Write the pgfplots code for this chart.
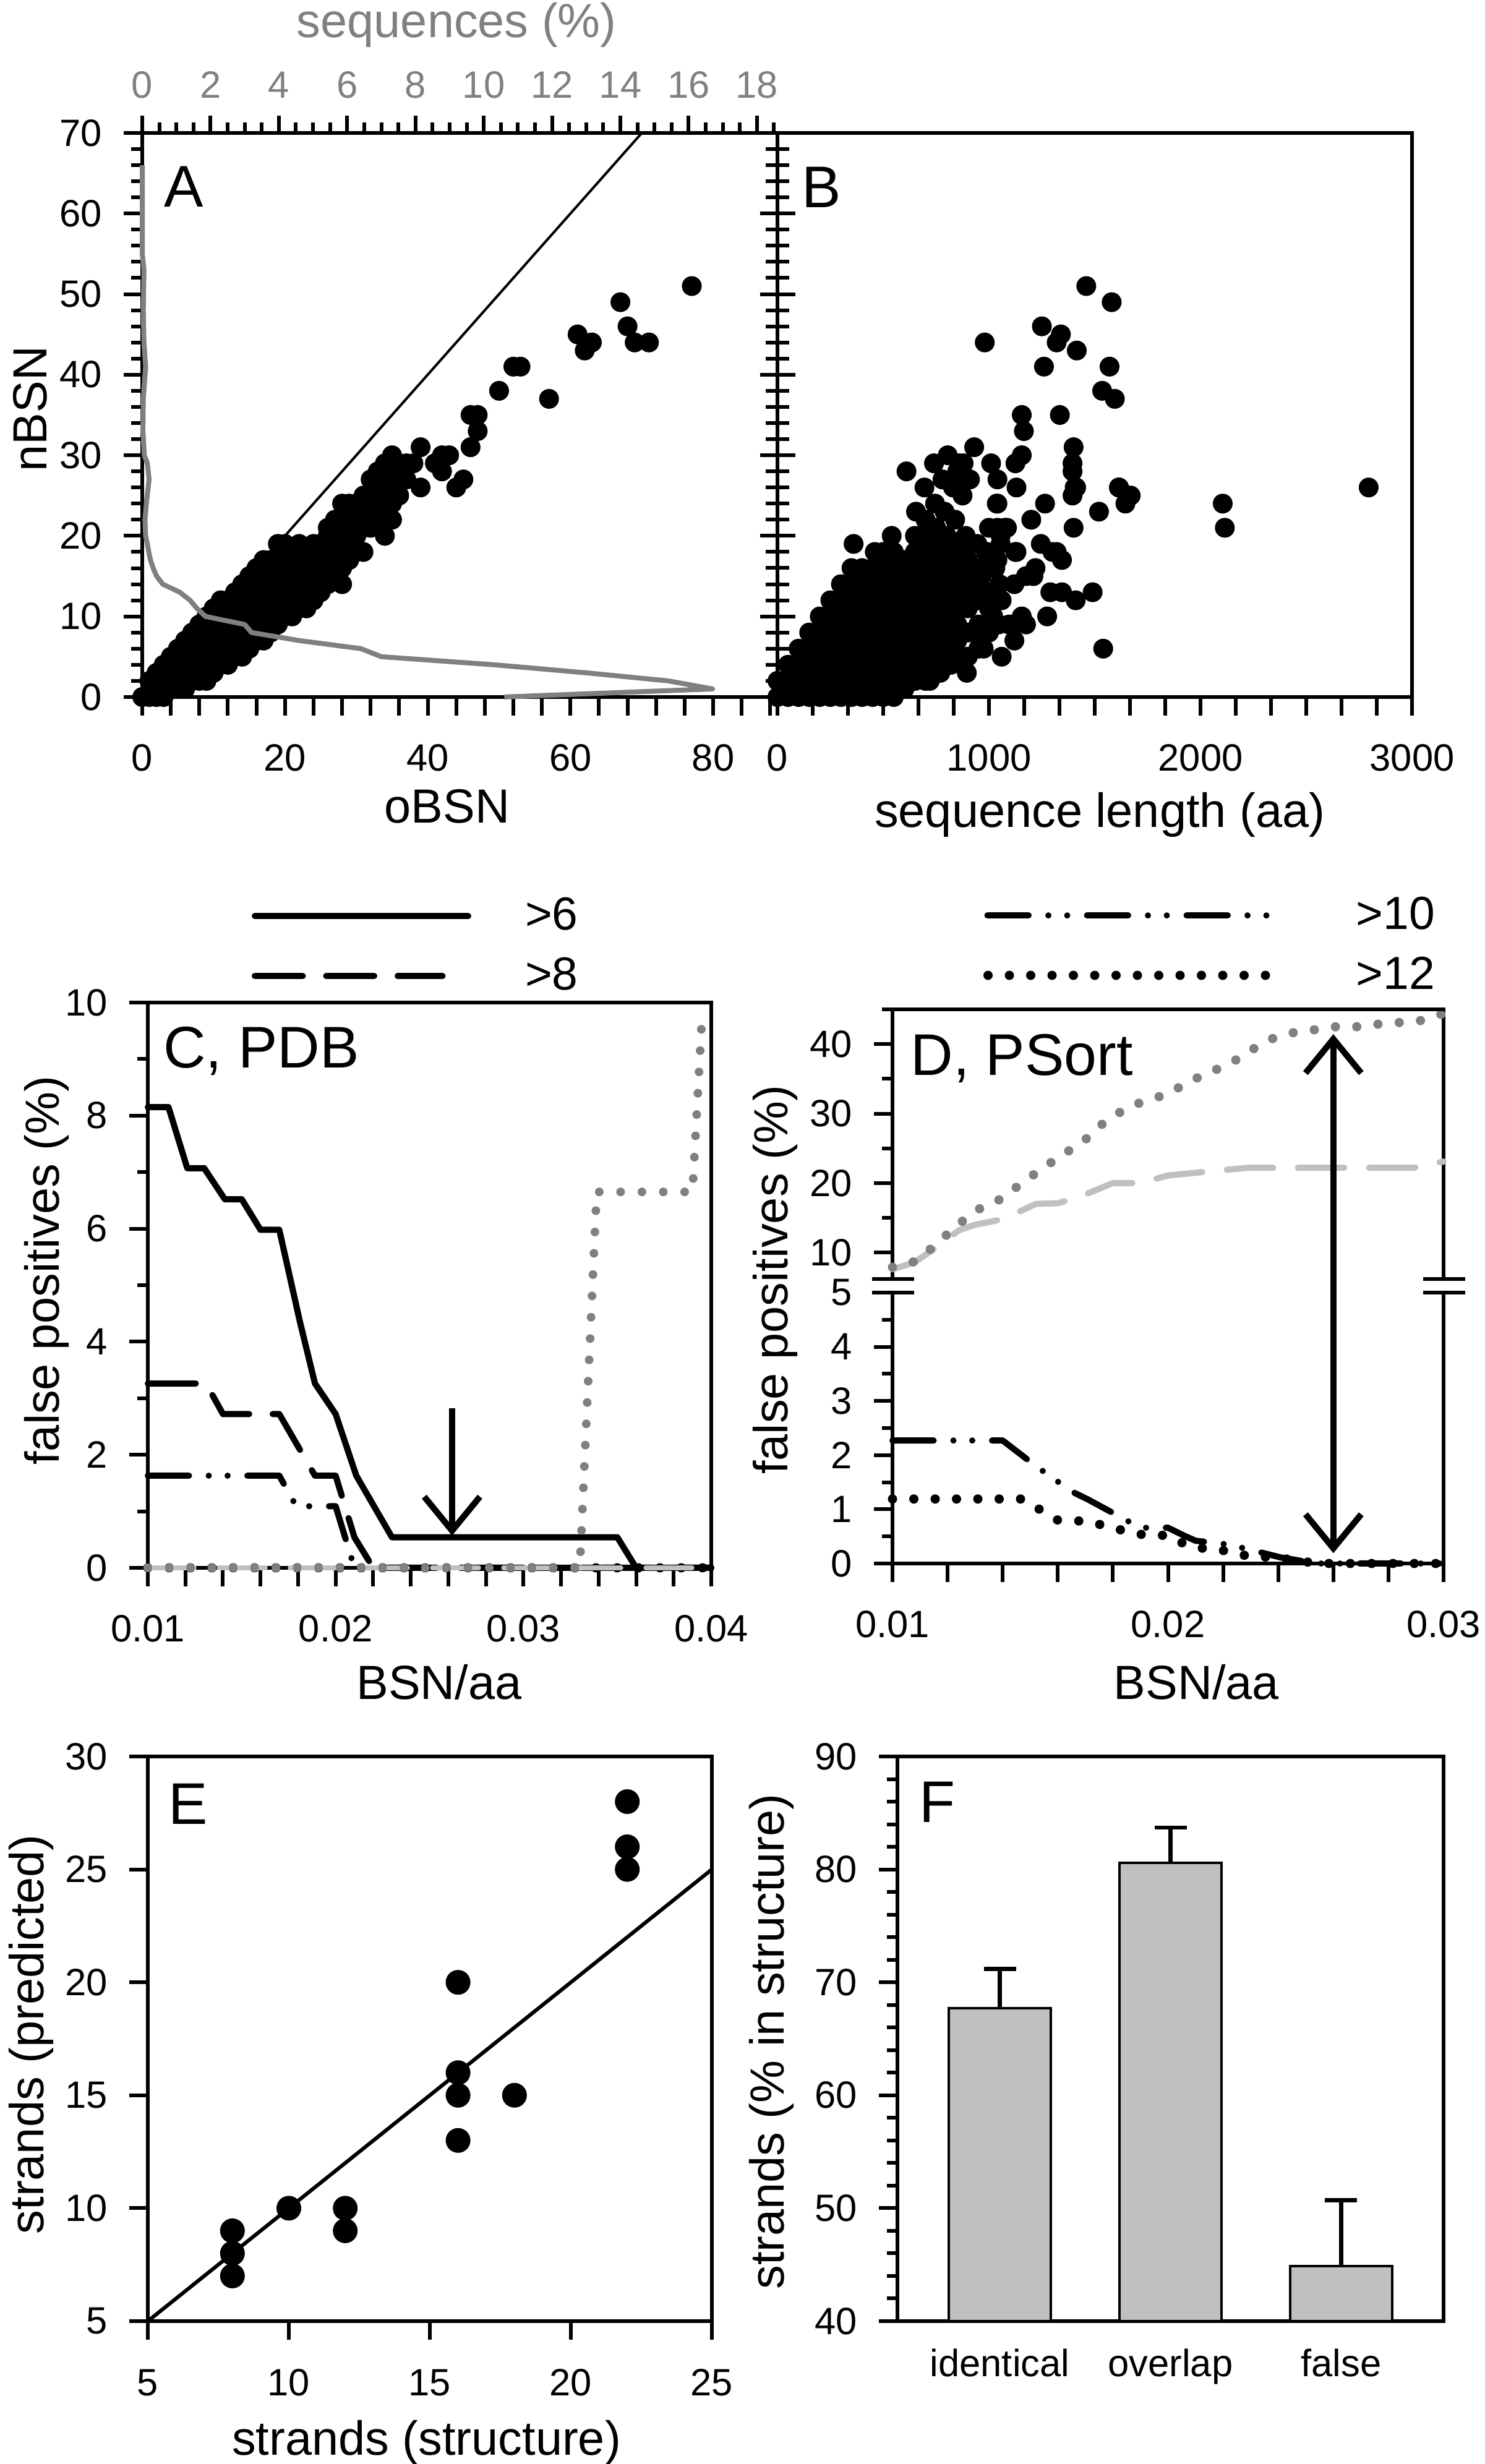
\documentclass[border=0pt]{standalone}
\usepackage{fontspec}
\setmainfont{Liberation Sans}
\usepackage{pgfplots}
\pgfplotsset{compat=1.18}
\usetikzlibrary{arrows.meta}
\definecolor{dgray}{RGB}{128,128,128}
\definecolor{lgray}{RGB}{192,192,192}
\definecolor{bargray}{RGB}{192,192,192}
\newcommand{\tickfont}{\fontsize{12.3}{14}\selectfont}
\newcommand{\labfont}{\fontsize{15.5}{18}\selectfont}
\newcommand{\panfont}{\fontsize{19}{22}\selectfont}
\newcommand{\legfont}{\fontsize{15}{18}\selectfont}
\tikzset{
  l6/.style={black, line width=2pt, line cap=round, line join=round},
  l8/.style={black, line width=2pt, line cap=round, line join=round, dash pattern=on 15.5pt off 7.6pt},
  l10/.style={black, line width=2pt, line cap=round, line join=round, dash pattern=on 13.3pt off 6.4pt on 0pt off 6.1pt on 0pt off 6.4pt},
  l12/.style={black, line width=3pt, line cap=round, dash pattern=on 0pt off 6.9pt},
  gdot/.style={dgray, line width=2.8pt, line cap=round, dash pattern=on 0pt off 6.9pt},
  ldash/.style={lgray, line width=2pt, line cap=round, line join=round, dash pattern=on 15pt off 8pt},
  barb/.tip={Straight Barb[length=11pt,width=18pt]},
}
\pgfplotsset{
  base/.style={
    scale only axis, clip=false,
    axis line style={line width=1.2pt},
    every tick/.style={black, line width=1.2pt},
    tick align=outside, tick pos=left,
    major tick length=6pt, minor tick length=3.5pt,
    tick label style={font=\tickfont, inner sep=0pt},
    xticklabel style={anchor=base}, xticklabel shift=18pt,
    yticklabel style={anchor=east}, yticklabel shift=6.8pt,
    /pgf/number format/assume math mode=true,
    /pgf/number format/1000 sep={},
    scaled ticks=false,
  },
  xlab/.style 2 args={every axis x label/.style={at={(rel axis cs:#1,#2)}, anchor=base, font=\labfont, inner sep=0pt}},
  ylab/.style 2 args={every axis y label/.style={at={(rel axis cs:#1,#2)}, rotate=90, anchor=base, font=\labfont, inner sep=0pt}},
  legS/.style={legend image code/.code={\draw[##1] (1pt,0pt) -- (70pt,0pt); \path[draw=none,fill=none] (0pt,-5.35pt) rectangle (88.4pt,5.35pt);}},
  legD/.style={legend image code/.code={\draw[##1] (1pt,0pt) -- (61.7pt,0pt); \path[draw=none,fill=none] (0pt,-5.35pt) rectangle (88.4pt,5.35pt);}},
  legDD/.style={legend image code/.code={\draw[##1] (1pt,0pt) -- (91.2pt,0pt); \path[draw=none,fill=none] (0pt,-5.35pt) rectangle (120.2pt,5.35pt);}},
  legDot/.style={legend image code/.code={\draw[##1] (1.2pt,0pt) -- (91pt,0pt); \path[draw=none,fill=none] (0pt,-5.35pt) rectangle (120.2pt,5.35pt);}},
}
\begin{document}
\begin{tikzpicture}
\useasboundingbox (0,0) rectangle (480pt,796.8pt);

% ---------------- A ----------------
\begin{axis}[base, at={(46pt,571.4pt)}, anchor=south west, width=205.4pt, height=182.4pt,
  xmin=0, xmax=89, ymin=0, ymax=70,
  xtick={0,4,8,12,16,20,24,28,32,36,40,44,48,52,56,60,64,68,72,76,80,84,88},
  xticklabels={0,,,,,20,,,,,40,,,,,60,,,,,80,,},
  ytick={0,10,20,30,40,50,60,70}, minor ytick={2,4,...,68},
  xlab={0.48}{-0.2237}, ylab={-0.1509}{0.511},
  xlabel={oBSN}, ylabel={nBSN}]
\addplot[black, line width=0.8pt] coordinates {(0,0) (70,70)};
\addplot[only marks, mark=*, mark size=3pt, black] coordinates {
(0,0)(1,0)(1,2)(2,0)(2,2)(2,3)(3,0)(3,2)(3,4)(4,1)(4,3)(4,5)
(5,1)(5,3)(5,5)(5,6)(6,1)(6,3)(6,5)(6,7)(7,2)(7,4)(7,6)(7,8)
(8,2)(8,4)(8,6)(8,8)(8,9)(9,2)(9,3)(9,5)(9,7)(9,9)(9,10)
(10,3)(10,5)(10,7)(10,9)(10,11)(11,4)(11,6)(11,8)(11,10)(11,12)
(12,4)(12,6)(12,8)(12,10)(12,12)(13,5)(13,7)(13,9)(13,11)(13,13)
(14,5)(14,7)(14,9)(14,11)(14,13)(14,14)(15,6)(15,8)(15,10)(15,12)(15,14)(15,15)
(16,7)(16,9)(16,11)(16,13)(16,15)(16,16)(17,7)(17,9)(17,11)(17,13)(17,15)(17,17)
(18,8)(18,10)(18,12)(18,14)(18,16)(18,17)(19,9)(19,11)(19,13)(19,15)(19,17)(19,19)
(20,10)(20,12)(20,14)(20,16)(20,18)(20,19)(21,10)(21,12)(21,14)(21,16)(21,18)
(22,11)(22,13)(22,15)(22,17)(22,19)(23,11)(23,13)(23,15)(23,17)(23,18)
(24,12)(24,14)(24,16)(24,18)(24,19)(25,13)(25,15)(25,17)(25,19)
(26,14)(26,16)(26,18)(26,20)(26,21)(27,15)(27,17)(27,19)(27,21)(27,22)
(28,14)(28,16)(28,18)(28,20)(28,22)(28,24)(29,17)(29,19)(29,21)(29,23)(29,24)
(30,18)(30,20)(30,22)(30,24)(31,18)(31,21)(31,23)(31,25)
(32,21)(32,23)(32,25)(32,27)(33,22)(33,24)(33,26)(33,28)
(34,20)(34,23)(34,25)(34,27)(34,29)(35,22)(35,24)(35,26)(35,28)(35,30)
(36,25)(36,27)(36,29)(37,27)(37,29)
(38,29)(39,31)(39,26)(41,29)(42,28)(42,30)(43,30)(44,26)(45,27)(46,31)(47,33)
(46,35)(47,35)(50,38)(52,41)(53,41)(57,37)(61,45)(62,43)(63,44)
(67,49)(68,46)(69,44)(71,44)(77,51)};
\node[anchor=north west, inner sep=0pt, font=\panfont] at ([shift={(7pt,-10.6pt)}]rel axis cs:0,1) {A};
\end{axis}
% top axis of A (sequences %)
\begin{axis}[base, at={(46pt,571.4pt)}, anchor=south west, width=205.4pt, height=182.4pt,
  xmin=0, xmax=18.6, ymin=0, ymax=70,
  axis x line*=top, axis y line=none, axis line style={-},
  xtick pos=right, xticklabel pos=right,
  major tick length=5.5pt, minor tick length=3.3pt,
  xtick={0,2,...,18}, minor xtick={0.5,1,...,18.5},
  xticklabel style={dgray, anchor=base}, xticklabel shift=5.7pt,
  xlab={0.495}{1.1694}, xlabel={sequences (\%)}, xlabel style={dgray}]
\addplot[dgray, line width=1.6pt, line join=round] coordinates {
(10.6,0) (16.7,1) (15.4,2) (13.0,3) (10.3,4) (7.0,5) (6.4,6) (4.6,7) (3.2,8) (3.0,9)
(1.85,10) (1.6,11) (1.4,12) (1.1,13) (0.6,14) (0.42,15) (0.32,16) (0.24,17) (0.19,18)
(0.15,19) (0.1,20) (0.08,22) (0.12,24) (0.2,27) (0.15,29) (0.06,30) (0.02,33) (0.03,37)
(0.1,41) (0.05,44) (0.03,48) (0.05,53) (0.0,55) (0.0,66)};
\end{axis}

% ---------------- B ----------------
\begin{axis}[base, at={(251.4pt,571.4pt)}, anchor=south west, width=205.2pt, height=182.4pt,
  xmin=0, xmax=3000, ymin=0, ymax=70,
  xtick={0,166.67,333.33,500,666.67,833.33,1000,1166.67,1333.33,1500,1666.67,1833.33,2000,2166.67,2333.33,2500,2666.67,2833.33,3000},
  xticklabels={0,,,,,,1000,,,,,,2000,,,,,,3000},
  ytick=\empty,
  xlab={0.508}{-0.2314},
  xlabel={sequence length (aa)}]
\addplot[only marks, mark=*, mark size=3pt, black] coordinates {
(0,0)(0,2)(50,0)(50,2)(50,4)(100,0)(100,2)(100,4)(100,6)
(150,0)(150,2)(150,4)(150,6)(150,8)
(200,0)(200,2)(200,4)(200,6)(200,8)(200,10)
(250,0)(250,2)(250,4)(250,6)(250,8)(250,10)(250,12)
(300,0)(300,2)(300,4)(300,6)(300,8)(300,10)(300,12)(300,14)
(350,0)(350,2)(350,4)(350,6)(350,8)(350,10)(350,12)(350,14)(350,16)(360,19)
(400,0)(400,2)(400,4)(400,6)(400,8)(400,10)(400,12)(400,14)(400,16)
(450,0)(450,2)(450,4)(450,6)(450,8)(450,10)(450,12)(450,14)(450,16)(460,18)
(500,0)(500,2)(500,4)(500,6)(500,8)(500,10)(500,12)(500,14)(500,16)(500,18)
(550,0)(550,2)(550,4)(550,6)(550,8)(550,10)(550,12)(550,14)(550,16)(550,18)(540,20)
(600,1)(600,3)(600,5)(600,7)(600,9)(600,11)(600,13)(600,15)(600,17)
(650,2)(650,4)(650,6)(650,8)(650,10)(650,12)(650,14)(650,16)(650,18)(650,20)(655,23)
(700,2)(700,4)(700,6)(700,8)(700,10)(700,12)(700,14)(700,16)(700,18)(700,20)(700,22)(695,26)
(750,3)(750,5)(750,7)(750,9)(750,11)(750,13)(750,15)(750,17)(750,19)(750,21)(745,24)(740,29)
(800,4)(800,6)(800,8)(800,10)(800,12)(800,14)(800,16)(800,18)(800,20)(790,23)(780,27)(805,30)
(850,5)(850,7)(850,9)(850,11)(850,13)(850,15)(850,17)(850,19)(840,22)(830,26)(850,28)(880,29)
(900,5)(900,8)(900,11)(900,13)(900,15)(900,17)(890,20)(875,25)(910,27)
(950,6)(950,9)(950,12)(950,14)(950,16)(945,19)
(1000,8)(1000,11)(1000,13)(1000,16)(990,18)
(1045,9)(1050,12)(1050,14)(1040,17)(1055,20)
(1460,51)(1580,49)(980,44)(1250,46)(1340,45)(1320,44)(1415,43)(1260,41)(1570,41)
(1535,38)(1595,37)(1155,35)(1335,35)(1165,33)(1400,31)(1155,30)(1125,29)(1395,29)
(1395,28)(930,31)(1010,29)(1040,27)(610,28)(860,29)(1615,26)(1670,25)
(1645,24)(1405,26)(1395,25)(1130,26)(2105,24)(2115,21)(2795,26)(1040,24)(1265,24)
(1520,23)(1400,21)(1200,22)(1040,21)(1085,21)(1130,18)(1245,19)(1320,18)(1345,17)
(1220,16)(1175,15)(1120,14)(1290,13)(1345,13)(1410,12)(1490,13)(1060,12)(1155,10)
(1275,10)(1175,9)(1095,9)(1120,7)(1540,6)(1060,5)(975,6)(895,3)(770,3)(875,8)
(1000,21)(1075,21)(1300,18)(1125,18)(1210,15)(1020,10)(955,8)(880,19)(985,18)
(965,15)(1030,16)(1055,19)(820,4)(720,2)(1037,24)(1412,26)(1653,25)(1614,26)(1110,9)};
\node[anchor=north west, inner sep=0pt, font=\panfont] at ([shift={(7.7pt,-10.9pt)}]rel axis cs:0,1) {B};
\end{axis}
% B: centred y ticks on the shared axis line
\begin{axis}[base, at={(251.4pt,571.4pt)}, anchor=south west, width=205.2pt, height=182.4pt,
  xmin=0, xmax=3000, ymin=0, ymax=70,
  hide x axis, axis y line*=left, axis line style={-},
  tick align=center, major tick length=11.4pt, minor tick length=7.6pt,
  ytick={0,10,20,30,40,50,60,70}, minor ytick={2,4,...,68}, yticklabels={}]
\end{axis}

% ---------------- C ----------------
\begin{axis}[base, at={(47.8pt,289.8pt)}, anchor=south west, width=182.2pt, height=182.8pt,
  xmin=0.01, xmax=0.04, ymin=0, ymax=10,
  xtick={0.010,0.012,0.014,0.016,0.018,0.020,0.022,0.024,0.026,0.028,0.030,0.032,0.034,0.036,0.038,0.040},
  xticklabels={0.01,,,,,0.02,,,,,0.03,,,,,0.04},
  ytick={0,2,4,6,8,10}, minor ytick={1,3,5,7,9},
  xlab={0.517}{-0.233}, ylab={-0.1575}{0.526},
  xlabel={BSN/aa}, ylabel={false positives (\%)},
  legend style={draw=none, fill=none, inner sep=0pt, outer sep=0pt, row sep=7.4pt,
    font=\legfont, nodes={inner sep=0pt}, at={(rel axis cs:0.1844,1.0142)}, anchor=south west},
  legend cell align=left]
\addplot[l6, legS]
 coordinates {(0.010,8.15) (0.0111,8.15) (0.0121,7.07) (0.0130,7.07) (0.0141,6.52) (0.0150,6.52)
 (0.0160,5.98) (0.0170,5.98) (0.0181,4.35) (0.0189,3.26) (0.0200,2.72) (0.0211,1.63)
 (0.0230,0.54) (0.0350,0.54) (0.0360,0) (0.040,0)};
\addlegendentry{>6}
\addplot[l8, legD]
 coordinates {(0.010,3.26) (0.0131,3.26) (0.0140,2.72) (0.0170,2.72) (0.0189,1.63) (0.0200,1.63)
 (0.0210,0.54) (0.0220,0) (0.040,0)};
\addlegendentry{>8}
\addplot[l10, forget plot] coordinates {(0.010,1.63) (0.0170,1.63) (0.0179,1.09) (0.0200,1.09) (0.0210,0) (0.040,0)};
\addplot[l12, forget plot] coordinates {(0.010,0) (0.040,0)};
\addplot[ldash, line width=1.5pt, forget plot] coordinates {(0.010,0) (0.040,0)};
\addplot[gdot, forget plot] coordinates {(0.010,0) (0.0330,0) (0.0339,6.65) (0.0390,6.65) (0.0395,9.7)};
\draw[line width=2pt, -{barb}] (axis cs:0.0262,2.82) -- (axis cs:0.0262,0.57);
\node[anchor=north west, inner sep=0pt, font=\panfont] at ([shift={(4.8pt,-7.6pt)}]rel axis cs:0,1) {C, PDB};
\end{axis}

% ---------------- D (upper part) ----------------
\begin{axis}[base, at={(288.6pt,383.2pt)}, anchor=south west, width=178.2pt, height=87.2pt,
  xmin=0.01, xmax=0.03, ymin=6.2, ymax=45,
  separate axis lines, x axis line style={draw=none}, xtick=\empty,
  ytick={10,20,30,40}, minor ytick={15,25,35,45},
  legend style={draw=none, fill=none, inner sep=0pt, outer sep=0pt, row sep=7.4pt,
    font=\legfont, nodes={inner sep=0pt}, at={(rel axis cs:0.165,1.0573)}, anchor=south west},
  legend cell align=left]
\addplot[ldash, forget plot] coordinates {(0.0100,7.6) (0.0108,8.6) (0.0118,11.3) (0.0124,13.2) (0.0130,14.0)
 (0.0140,14.8) (0.0145,15.7) (0.0152,17.0) (0.0160,17.1) (0.0169,18.2) (0.0180,20.0) (0.0190,20.0)
 (0.0200,21.1) (0.0221,21.9) (0.0229,22.2) (0.0289,22.2) (0.0300,23.1)};
\addplot[gdot, line width=3pt, forget plot] coordinates {(0.0100,7.9) (0.0108,8.7) (0.0116,11.2) (0.0123,13.8)
 (0.0131,16.2) (0.0138,17.4) (0.0146,19.7) (0.0154,22.0) (0.0161,23.9) (0.0169,25.9) (0.0177,28.8)
 (0.0185,30.8) (0.0192,31.9) (0.0200,32.8) (0.0207,34.5) (0.0215,35.9) (0.0223,37.3) (0.0230,39.1)
 (0.0238,40.8) (0.0246,41.7) (0.0254,42.1) (0.0261,42.5) (0.0269,42.5) (0.0277,42.9) (0.0284,43.1)
 (0.0292,43.4) (0.0300,44.4)};
\addlegendimage{l10, legDD}
\addlegendentry{>10}
\addlegendimage{l12, legDot}
\addlegendentry{>12}
\draw[line width=1.2pt, line cap=rect] (rel axis cs:0,1) -- (rel axis cs:1,1);
\draw[line width=1.2pt] ([xshift=-6.6pt]rel axis cs:0,0) -- ([xshift=7pt]rel axis cs:0,0);
\draw[line width=1.2pt] ([xshift=-6.6pt]rel axis cs:1,0) -- ([xshift=7pt]rel axis cs:1,0);
\node[anchor=north west, inner sep=0pt, font=\panfont] at ([shift={(5.7pt,-7.8pt)}]rel axis cs:0,1) {D, PSort};
\end{axis}
% ---------------- D (lower part) ----------------
\begin{axis}[base, at={(288.6pt,291.2pt)}, anchor=south west, width=178.2pt, height=87.6pt,
  xmin=0.01, xmax=0.03, ymin=0, ymax=5,
  separate axis lines, x axis line style={draw=none},
  xtick={0.010,0.012,0.014,0.016,0.018,0.020,0.022,0.024,0.026,0.028,0.030},
  xticklabels={0.01,,,,,0.02,,,,,0.03},
  ytick={0,1,2,3,4,5}, minor ytick={0.5,1.5,2.5,3.5,4.5},
  xlab={0.5516}{-0.502}, xlabel={BSN/aa}]
\addplot[l10] coordinates {(0.0100,2.27) (0.0140,2.27) (0.0152,1.80) (0.0165,1.33) (0.0171,1.18)
 (0.0187,0.74) (0.0192,0.66) (0.0200,0.66) (0.0206,0.51) (0.0210,0.42) (0.0222,0.35) (0.0234,0.20)
 (0.0241,0.11) (0.0254,0) (0.030,0)};
\addplot[l12] coordinates {(0.0100,1.19) (0.0147,1.19) (0.0160,0.80) (0.0170,0.78) (0.0177,0.70)
 (0.0185,0.59) (0.0192,0.52) (0.0200,0.52) (0.0207,0.33) (0.0215,0.26) (0.0222,0.23) (0.0230,0.12)
 (0.0238,0.12) (0.0250,0.03) (0.0255,0) (0.030,0)};
\draw[line width=1.2pt, line cap=rect] (rel axis cs:0,0) -- (rel axis cs:1,0);
\draw[line width=1.2pt] ([xshift=-6.6pt]rel axis cs:0,1) -- ([xshift=7pt]rel axis cs:0,1);
\draw[line width=1.2pt] ([xshift=-6.6pt]rel axis cs:1,1) -- ([xshift=7pt]rel axis cs:1,1);
\draw[line width=2pt, {barb}-{barb}] (axis cs:0.026,0.19) -- (axis cs:0.026,9.77);
\node[rotate=90, anchor=base, inner sep=0pt, font=\labfont] at ([xshift=-34pt]rel axis cs:0,1.047) {false positives (\%)};
\end{axis}

% ---------------- E ----------------
\begin{axis}[base, at={(47.8pt,46.2pt)}, anchor=south west, width=182.4pt, height=182.6pt,
  xmin=5, xmax=25, ymin=5, ymax=30,
  xtick={5,10,15,20,25}, ytick={5,10,15,20,25,30},
  xlab={0.494}{-0.237}, ylab={-0.1853}{0.508},
  xlabel={strands (structure)}, ylabel={strands (predicted)}]
\addplot[black, line width=1.2pt] coordinates {(5,5) (25,25)};
\addplot[only marks, mark=*, mark size=3.8pt, black] coordinates {
(8,9) (8,8) (8,7) (10,10) (12,10) (12,9) (16,20) (16,16) (16,15) (16,13) (18,15) (22,28) (22,26) (22,25)};
\node[anchor=north west, inner sep=0pt, font=\panfont] at ([shift={(6.4pt,-8.6pt)}]rel axis cs:0,1) {E};
\end{axis}

% ---------------- F ----------------
\begin{axis}[base, at={(290.2pt,46.2pt)}, anchor=south west, width=176.6pt, height=182.6pt,
  clip=true, xmin=-0.6, xmax=2.6, ymin=40, ymax=90,
  xtick={0,1,2}, xticklabels={identical,overlap,false}, x tick style={draw=none},
  xticklabel shift=12pt,
  ytick={40,50,60,70,80,90}, minor ytick={42,44,...,88},
  ylab={-0.2073}{0.495}, ylabel={strands (\% in structure)}]
\addplot[ybar, bar width=0.6, fill=bargray, draw=black, line width=0.8pt,
  error bars/.cd, y dir=plus, y explicit,
  error bar style={line width=1.3pt, black},
  error mark options={rotate=90, line width=1.3pt, mark size=5.2pt, black}]
 coordinates {(0,67.7) +- (0,3.5) (1,80.6) +- (0,3.1) (2,44.9) +- (0,5.8)};
\end{axis}
\begin{axis}[base, at={(290.2pt,46.2pt)}, anchor=south west, width=176.6pt, height=182.6pt,
  xmin=-0.6, xmax=2.6, ymin=40, ymax=90, hide x axis, hide y axis]
\node[anchor=north west, inner sep=0pt, font=\panfont] at ([shift={(6.8pt,-8pt)}]rel axis cs:0,1) {F};
\end{axis}
\end{tikzpicture}
\end{document}
